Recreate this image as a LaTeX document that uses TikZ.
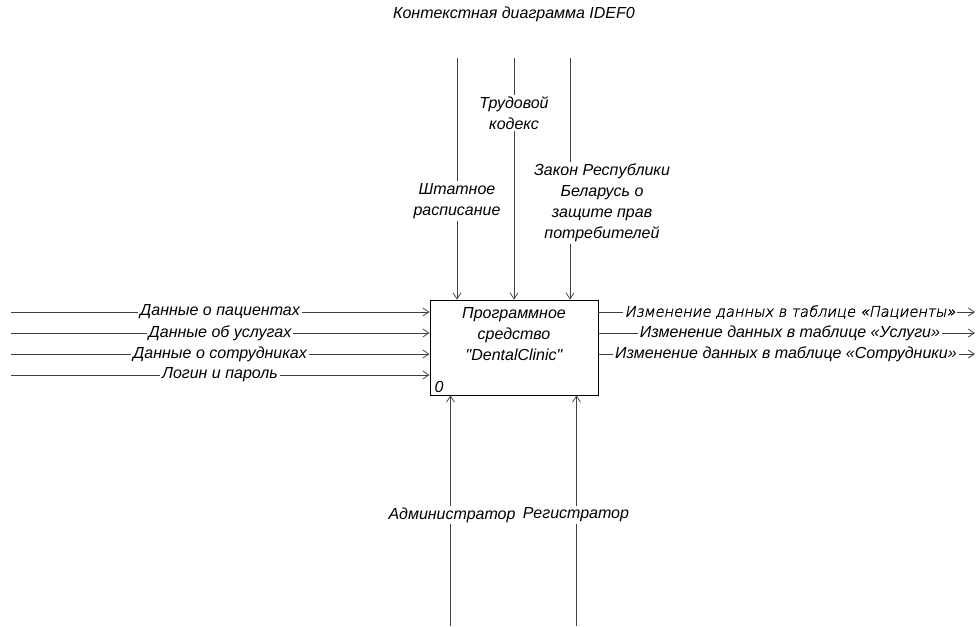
\documentclass[tikz,border=0pt]{standalone}
\usepackage{fontspec}
\setmainfont{Liberation Sans}[Ligatures=TeXOff]
\newfontfamily\thinfont{DejaVu Sans ExtraLight}[FakeSlant=0.2,FakeBold=1.5]
\usetikzlibrary{arrows.meta}
\begin{document}
\begin{tikzpicture}[x=0.75pt,y=-0.75pt,
  flow/.style={draw=black!75, line width=0.6pt, -{Straight Barb[length=4.5pt,width=6pt]}},
  lbl/.style={font=\itshape\fontsize{12}{15.75}\selectfont, fill=white, inner sep=1.5pt, align=center},
  func/.style={draw, line width=0.6pt, minimum width=126pt, minimum height=71.25pt, inner sep=0pt}]
\useasboundingbox (0,0) rectangle (978,626);
\node[lbl, fill=none] (title) at (514,14) {Контекстная диаграмма IDEF0};
\node[func] (prog) at (514,347.5) {};
\node[lbl, fill=none] (progname) at (514,334) {Программное\\средство\\"DentalClinic"};
\node[lbl, fill=none, anchor=south west, xshift=2pt] (prognum) at (prog.south west) {0};
% inputs
\coordinate (in1) at (11,312);
\coordinate (in2) at (11,333);
\coordinate (in3) at (11,354);
\coordinate (in4) at (11,375);
\draw[flow] (in1) -- (in1 -| prog.west);
\draw[flow] (in2) -- (in2 -| prog.west);
\draw[flow] (in3) -- (in3 -| prog.west);
\draw[flow] (in4) -- (in4 -| prog.west);
\node[lbl] (patin) at (220,312) {Данные о пациентах};
\node[lbl] (servin) at (220,333) {Данные об услугах};
\node[lbl] (staffin) at (220,354) {Данные о сотрудниках};
\node[lbl] (login) at (220,375) {Логин и пароль};
% outputs
\coordinate (out1) at (975,312);
\coordinate (out2) at (975,333);
\coordinate (out3) at (975,354);
\draw[flow] (prog.east |- out1) -- (out1);
\draw[flow] (prog.east |- out2) -- (out2);
\draw[flow] (prog.east |- out3) -- (out3);
\node[lbl, font=\thinfont\fontsize{11}{15.75}\selectfont] (patout) at (790,312) {Изменение данных в таблице «Пациенты»};
\node[lbl] (servout) at (790,333) {Изменение данных в таблице «Услуги»};
\node[lbl] (staffout) at (786,354) {Изменение данных в таблице «Сотрудники»};
% controls
\coordinate (ctl1) at (457,58);
\coordinate (ctl2) at (514,58);
\coordinate (ctl3) at (570,58);
\draw[flow] (ctl1) -- (ctl1 |- prog.north);
\draw[flow] (ctl2) -- (ctl2 |- prog.north);
\draw[flow] (ctl3) -- (ctl3 |- prog.north);
\node[lbl] (staffing) at (457,201) {Штатное\\расписание};
\node[lbl] (labour) at (514,113) {Трудовой\\кодекс};
\node[lbl] (law) at (602,203) {Закон Республики\\Беларусь о\\защите прав\\потребителей};
% mechanisms
\coordinate (mech1) at (450.5,626);
\coordinate (mech2) at (576.5,626);
\draw[flow] (mech1) -- (mech1 |- prog.south);
\draw[flow] (mech2) -- (mech2 |- prog.south);
\node[lbl] (admin) at (452,515) {Администратор};
\node[lbl] (registrar) at (576,515) {Регистратор};
\end{tikzpicture}
\end{document}
